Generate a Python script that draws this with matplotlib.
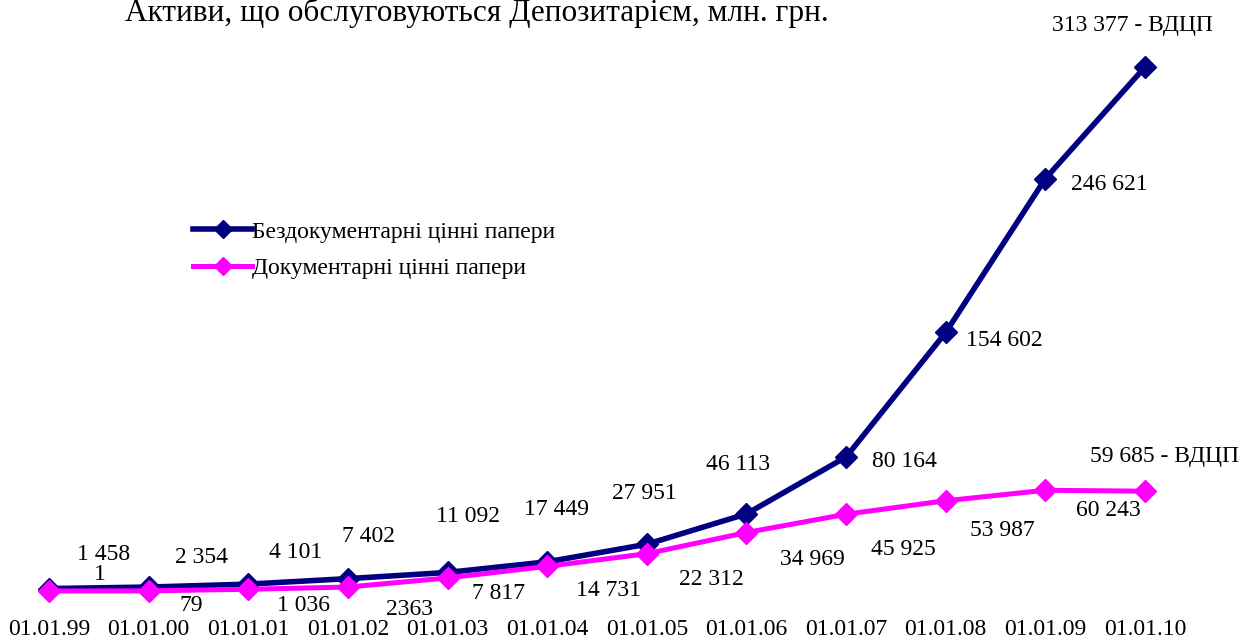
import matplotlib
matplotlib.use("Agg")
import matplotlib.pyplot as plt

plt.rcParams['font.family'] = ['Liberation Serif', 'DejaVu Serif']

dates = ["01.01.99", "01.01.00", "01.01.01", "01.01.02", "01.01.03", "01.01.04",
         "01.01.05", "01.01.06", "01.01.07", "01.01.08", "01.01.09", "01.01.10"]
bez_values = [1458, 2354, 4101, 7402, 11092, 17449, 27951, 46113, 80164, 154602, 246621, 313377]
doc_values = [1, 79, 1036, 2363, 7817, 14731, 22312, 34969, 45925, 53987, 60243, 59685]
bez_labels = ["1 458", "2 354", "4 101", "7 402", "11 092", "17 449", "27 951", "46 113",
              "80 164", "154 602", "246 621", "313 377 - ВДЦП"]
doc_labels = ["1", "79", "1 036", "2363", "7 817", "14 731", "22 312", "34 969",
              "45 925", "53 987", "60 243", "59 685 - ВДЦП"]
series_names = ["Бездокументарні цінні папери", "Документарні цінні папери"]
title = "Активи, що обслуговуються Депозитарієм, млн. грн."

# label offsets in pixels (right, down)
bez_off = [(55, -34), (53, -30), (47, -32), (21, -42), (20, -56), (9, -52), (-2, -51),
           (-8, -49), (58, 5), (59, 8), (64, 6), (-13, -41)]
doc_off = [(51, -16), (43, 15), (55, 16), (62, 22), (51, 16), (61, 24), (65, 26),
           (66, 27), (57, 35), (57, 30), (63, 20), (19, -35)]

W, H = 1250, 638
fig = plt.figure(figsize=(W / 100, H / 100), dpi=100)
bottom_px = 612
ax = fig.add_axes([0, (H - bottom_px) / H, 1, bottom_px / H])

blue = "#000080"
pink = "#FF00FF"
fs = 17
x = list(range(len(dates)))
ax.plot(x, bez_values, color=blue, lw=4, marker='D', ms=11, label=series_names[0],
        solid_joinstyle='round', zorder=3)
ax.plot(x, doc_values, color=pink, lw=3.6, marker='D', ms=11, label=series_names[1],
        solid_joinstyle='round', zorder=4)

# scales: x index 0 at px 49, 11 at px 1145 ; y 0 at px 591, 313377 at px 67
step = (1145 - 49) / 11
ax.set_xlim(-49 / step, 11 + (W - 1145) / step)
k = (591 - 67) / 313377
ax.set_ylim(-(bottom_px - 591) / k, 591 / k)

for s in ax.spines.values():
    s.set_visible(False)
ax.set_yticks([])
ax.set_xticks(x)
ax.set_xticklabels(dates, fontsize=fs)
ax.tick_params(axis='x', length=0, pad=5)

for i, (v, lab) in enumerate(zip(bez_values, bez_labels)):
    dx, dy = bez_off[i]
    ax.annotate(lab, (i, v), xytext=(dx, -dy), textcoords='offset pixels',
                ha='center', va='center', fontsize=fs)
for i, (v, lab) in enumerate(zip(doc_values, doc_labels)):
    dx, dy = doc_off[i]
    ax.annotate(lab, (i, v), xytext=(dx, -dy), textcoords='offset pixels',
                ha='center', va='center', fontsize=fs)

leg = ax.legend(loc='upper left', bbox_to_anchor=(193 / W, 1 - 221 / H),
                bbox_transform=fig.transFigure, frameon=False, fontsize=fs,
                handlelength=2.5, handletextpad=0.0, labelspacing=0.65,
                borderpad=0, borderaxespad=0, numpoints=1, markerscale=0.8)

fig.text(125 / W, 1 - 21 / H, title, ha='left', va='baseline', fontsize=22.5)

fig.savefig("out.png", dpi=100)
